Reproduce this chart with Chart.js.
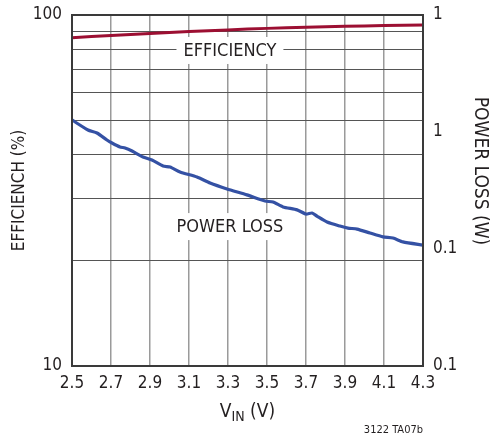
<!DOCTYPE html>
<html lang="en">
<head>
  <meta charset="UTF-8">
  <title>Efficiency and Power Loss vs VIN</title>
  <style>
    body { margin: 0; background: #fff; }
  </style>
</head>
<body>
  <script src="https://cdn.jsdelivr.net/npm/chart.js"></script>
  <canvas id="effChart" width="490" height="435"></canvas>
  <script>
    // datos
    const vinTicks = [2.5, 2.7, 2.9, 3.1, 3.3, 3.5, 3.7, 3.9, 4.1, 4.3];
    const effTicks = [10, 20, 30, 40, 50, 60, 70, 80, 90, 100];
    const effTickLabels = { 10: '10', 100: '100' };
    const lossTicks = [0.01, 0.1, 1, 10];
    const lossTickLabels = ['0.1', '0.1', '1', '1']; // asi aparecen en la hoja de datos

    const effVin = [2.5, 2.7, 2.9, 3.1, 3.3, 3.5, 3.7, 3.9, 4.1, 4.3];
    const efficiency = [86.2, 87.4, 88.6, 89.7, 90.7, 91.6, 92.3, 92.9, 93.3, 93.7];

    const lossVin = [2.5, 2.582, 2.628, 2.679, 2.705, 2.746, 2.772, 2.808, 2.864, 2.910,
      2.967, 3.003, 3.054, 3.141, 3.208, 3.295, 3.397, 3.490, 3.531, 3.582,
      3.654, 3.700, 3.731, 3.756, 3.808, 3.874, 3.915, 3.962, 4.028, 4.095,
      4.146, 4.197, 4.300];
    const powerLoss = [1.267, 1.04, 0.981, 0.855, 0.805, 0.745, 0.730, 0.688, 0.611, 0.576,
      0.512, 0.502, 0.455, 0.412, 0.366, 0.326, 0.290, 0.257, 0.252, 0.229,
      0.216, 0.199, 0.203, 0.191, 0.170, 0.157, 0.151, 0.148, 0.137, 0.127,
      0.124, 0.115, 0.108];

    const FONT = '"Liberation Sans Narrow", "DejaVu Sans Condensed", "Arial Narrow", sans-serif';
    const TEXT = '#231f20';

    // etiquetas, marco y titulos que Chart.js no dibuja solo
    const notesPlugin = {
      id: 'notes',
      beforeDatasetsDraw(chart) {
        const ctx = chart.ctx;
        const x = chart.scales.x, y = chart.scales.y, y2 = chart.scales.y2;
        ctx.save();
        ctx.font = '18px ' + FONT;
        ctx.textAlign = 'center';
        ctx.textBaseline = 'middle';
        const notes = [
          { text: 'EFFICIENCY', px: x.getPixelForValue(3.31), py: y.getPixelForValue(79.5) },
          { text: 'POWER LOSS', px: x.getPixelForValue(3.31), py: y2.getPixelForValue(0.157) }
        ];
        notes.forEach(n => {
          const w = ctx.measureText(n.text).width + 14;
          ctx.fillStyle = '#fff';
          ctx.fillRect(n.px - w / 2, n.py - 13, w, 27);
          ctx.fillStyle = TEXT;
          ctx.fillText(n.text, n.px, n.py + 1);
        });
        ctx.restore();
      },
      afterDraw(chart) {
        const ctx = chart.ctx;
        const a = chart.chartArea;
        ctx.save();
        ctx.strokeStyle = '#3a3a3a';
        ctx.lineWidth = 2;
        ctx.strokeRect(a.left, a.top, a.right - a.left, a.bottom - a.top);

        // titulo eje x con subindice
        ctx.fillStyle = TEXT;
        ctx.textBaseline = 'alphabetic';
        ctx.textAlign = 'left';
        const big = '19px ' + FONT, small = '14px ' + FONT;
        ctx.font = big; const w1 = ctx.measureText('V').width;
        ctx.font = small; const w2 = ctx.measureText('IN').width;
        ctx.font = big; const w3 = ctx.measureText(' (V)').width;
        let sx = (a.left + a.right) / 2 - (w1 + w2 + w3) / 2;
        const base = 417;
        ctx.font = big; ctx.fillText('V', sx, base);
        ctx.font = small; ctx.fillText('IN', sx + w1, base + 4);
        ctx.font = big; ctx.fillText(' (V)', sx + w1 + w2, base);

        // titulo eje derecho
        ctx.save();
        ctx.translate(480, 171);
        ctx.rotate(Math.PI / 2);
        ctx.textAlign = 'center';
        ctx.textBaseline = 'middle';
        ctx.font = '19px ' + FONT;
        ctx.fillText('POWER LOSS (W)', 0, 0);
        ctx.restore();

        ctx.font = '11px ' + FONT;
        ctx.textAlign = 'right';
        ctx.fillText('3122 TA07b', a.right, 433);
        ctx.restore();
      }
    };

    const ctx = document.getElementById('effChart').getContext('2d');
    const effChart = new Chart(ctx, {
      type: 'line',
      data: {
        datasets: [{
          label: 'EFFICIENCY',
          data: effVin.map((v, i) => ({ x: v, y: efficiency[i] })),
          yAxisID: 'y',
          borderColor: '#9c0f32',
          borderWidth: 3,
          pointRadius: 0,
          tension: 0.3
        }, {
          label: 'POWER LOSS',
          data: lossVin.map((v, i) => ({ x: v, y: powerLoss[i] })),
          yAxisID: 'y2',
          borderColor: '#3451a4',
          borderWidth: 3.2,
          pointRadius: 0,
          tension: 0.2
        }]
      },
      options: {
        responsive: false,
        animation: false,
        layout: { padding: { top: 15, left: 0, right: 0, bottom: 0 } },
        plugins: {
          legend: { display: false },
          tooltip: { enabled: false }
        },
        scales: {
          x: {
            type: 'linear',
            min: 2.5,
            max: 4.3,
            afterBuildTicks: scale => { scale.ticks = vinTicks.map(v => ({ value: v })); },
            afterFit: scale => { scale.height = 69; scale.paddingLeft = 0; scale.paddingRight = 0; },
            ticks: {
              callback: v => v.toFixed(1),
              font: { family: FONT, size: 17 },
              color: TEXT,
              padding: 7,
              maxRotation: 0,
              autoSkip: false
            },
            grid: { color: '#9a9a9a', lineWidth: 1.5, drawTicks: false },
            border: { display: false }
          },
          y: {
            type: 'logarithmic',
            position: 'left',
            min: 10,
            max: 100,
            afterBuildTicks: scale => { scale.ticks = effTicks.map(v => ({ value: v })); },
            afterFit: scale => { scale.width = 72; scale.paddingTop = 0; scale.paddingBottom = 0; },
            ticks: {
              callback: v => effTickLabels[v] || '',
              font: { family: FONT, size: 17 },
              color: TEXT,
              padding: 10,
              autoSkip: false
            },
            grid: { color: '#555555', lineWidth: 1, drawTicks: false },
            border: { display: false },
            title: {
              display: true,
              text: 'EFFICIENCH (%)',
              font: { family: FONT, size: 17 },
              color: TEXT,
              padding: { top: 9, bottom: 0 }
            }
          },
          y2: {
            type: 'logarithmic',
            position: 'right',
            min: 0.01,
            max: 10,
            afterBuildTicks: scale => { scale.ticks = lossTicks.map(v => ({ value: v })); },
            afterFit: scale => { scale.width = 67; scale.paddingTop = 0; scale.paddingBottom = 0; },
            ticks: {
              callback: (v, i) => lossTickLabels[i],
              font: { family: FONT, size: 17 },
              color: TEXT,
              padding: 10,
              autoSkip: false
            },
            grid: { display: false, drawTicks: false },
            border: { display: false }
          }
        }
      },
      plugins: [notesPlugin]
    });
  </script>
</body>
</html>
